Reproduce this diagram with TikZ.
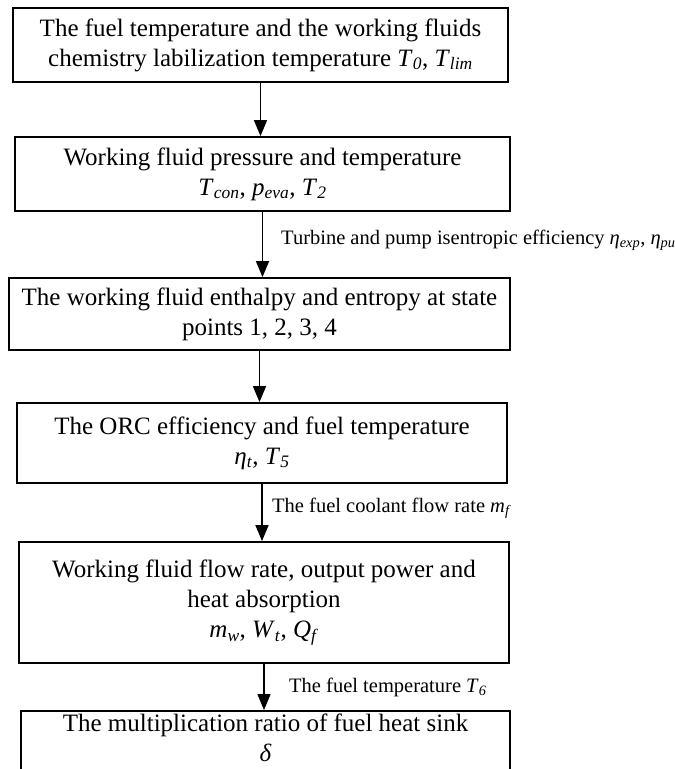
\documentclass[tikz,border=0pt]{standalone}
\usepackage{fontspec}
\setmainfont{Liberation Serif}
\usetikzlibrary{arrows.meta}

% italic symbol with italic subscript
\newcommand{\vsub}[2]{\textit{#1}\textsubscript{\textit{#2}}}

\begin{document}
\begin{tikzpicture}[x=1pt,y=-1pt,
    box/.style={draw, line width=1.8pt, align=center, inner sep=0pt,
        font=\fontsize{25}{30}\selectfont},
    flow/.style={line width=1.6pt, -{Triangle[length=16pt,width=13pt]}},
    lbl/.style={anchor=base west, inner sep=0pt, font=\fontsize{20.5}{24}\selectfont}]
    \useasboundingbox (0,0) rectangle (675,769);
    % boxes
    \node[box, minimum width=495pt, minimum height=74pt] (fuelT) at (260.5,45)
        {The fuel temperature and the working fluids\\
         chemistry labilization temperature \vsub{T}{0}, \vsub{T}{lim}};
    \node[box, minimum width=495pt, minimum height=74pt] (press) at (262.5,174)
        {Working fluid pressure and temperature\\
         \vsub{T}{con}, \vsub{p}{eva}, \vsub{T}{2}};
    \node[box, minimum width=501pt, minimum height=72pt] (enth) at (259.5,314)
        {The working fluid enthalpy and entropy at state\\
         points 1, 2, 3, 4};
    \node[box, minimum width=490pt, minimum height=80pt] (orc) at (262,443)
        {The ORC efficiency and fuel temperature\\
         \vsub{η}{t}, \vsub{T}{5}};
    \node[box, minimum width=490pt, minimum height=121pt] (power) at (264,602.5)
        {Working fluid flow rate, output power and\\
         heat absorption\\
         \vsub{m}{w}, \vsub{W}{t}, \vsub{Q}{f}};
    \node[box, minimum width=489pt, anchor=north, inner ysep=3pt, text depth=30pt] (ratio) at (265.5,710)
        {The multiplication ratio of fuel heat sink\\
         \textit{δ}};
    % arrows
    \draw[flow] (fuelT.south) -- (fuelT.south |- press.north);
    \draw[flow] (press.south) -- (press.south |- enth.north);
    \draw[flow] (enth.south) -- (enth.south |- orc.north);
    \draw[flow] (orc.south) -- (orc.south |- power.north);
    \draw[flow] (power.south) -- (power.south |- ratio.north);
    % arrow labels
    \node[lbl] (effic) at (281,244) {Turbine and pump isentropic efficiency \vsub{η}{exp}, \vsub{η}{pump}};
    \node[lbl] (coolant) at (272,512) {The fuel coolant flow rate \vsub{m}{f}};
    \node[lbl] (fuelsix) at (289,692) {The fuel temperature \vsub{T}{6}};
\end{tikzpicture}
\end{document}
